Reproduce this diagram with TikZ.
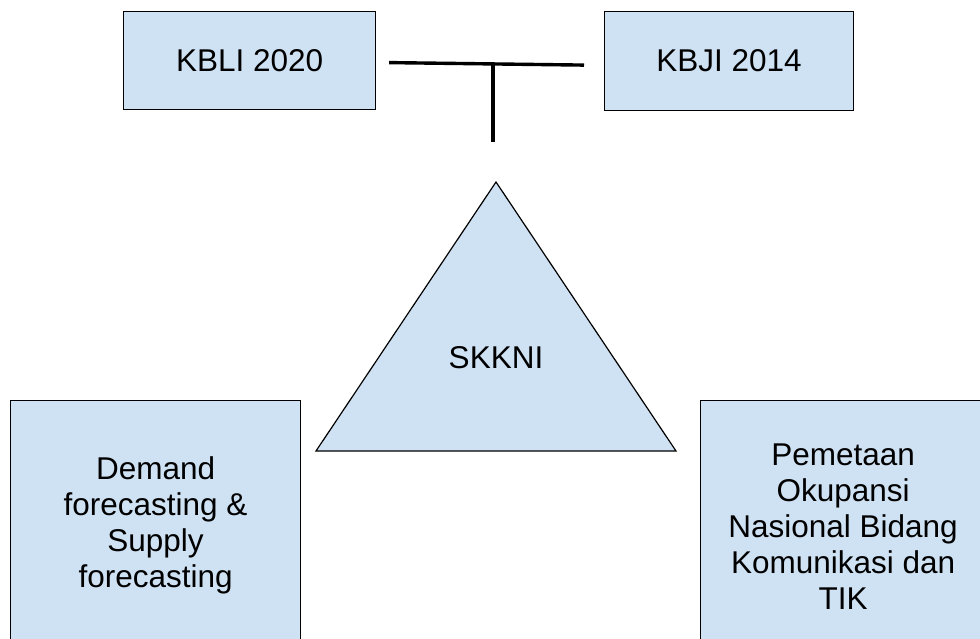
\documentclass[tikz,border=0pt]{standalone}
\usepackage{fontspec}
\setmainfont{Liberation Sans}
\usetikzlibrary{positioning}
\definecolor{boxblue}{HTML}{CFE2F3}
\tikzstyle{box} = [rectangle, draw=black, line width=1.2pt, fill=boxblue, align=center, inner sep=0pt, font=\fontsize{31.5}{36}\selectfont]
\tikzstyle{tri} = [draw=black, line width=1.2pt, fill=boxblue]
\tikzstyle{tee} = [line width=3.4pt]

\begin{document}
\begin{tikzpicture}[x=1pt, y=-1pt]

\useasboundingbox (0,0) rectangle (980,639);
\clip (0,0) rectangle (980,639);

\node (kbli) [box, anchor=north west, minimum width=252pt, minimum height=98pt] at (123,11) {KBLI 2020};
\node (kbji) [box, anchor=north west, minimum width=249pt, minimum height=99pt] at (604,11) {KBJI 2014};

\coordinate (top) at (496,182);
\coordinate (left) at (316,451);
\coordinate (right) at (676,451);
\draw [tri] (top) -- (left) -- (right) -- cycle;
\node (skkni) [font=\fontsize{31.5}{36}\selectfont] at (496,358) {SKKNI};

\node (demand) [box, anchor=north west, minimum width=290pt, minimum height=250pt] at (10,400) {Demand\\forecasting \&\\Supply\\forecasting};
\node (pemetaan) [box, anchor=north west, minimum width=285pt, minimum height=252pt] at (700,400) {Pemetaan\\Okupansi\\Nasional Bidang\\Komunikasi dan\\TIK};

\coordinate (joint) at (493,63);
\coordinate (stem) at (493,142);

\draw [tee] ([xshift=13pt,yshift=-2pt]kbli.east) -- ([xshift=-20pt,yshift=-4pt]kbji.west);
\draw [tee] (joint) -- (stem);

\end{tikzpicture}
\end{document}
